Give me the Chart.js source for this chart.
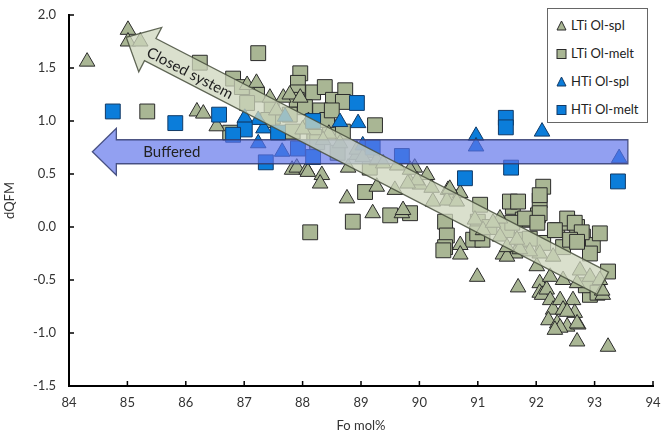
<!DOCTYPE html>
<html>
<head>
<meta charset="utf-8">
<script src="https://cdn.jsdelivr.net/npm/chart.js@4.4.0/dist/chart.umd.min.js"></script>
<style>
  html, body { margin: 0; padding: 0; background: #fff; }
  #wrap { position: relative; width: 671px; height: 437px; }
  #legend {
    position: absolute; left: 547px; top: 8px; width: 99px; height: 113px;
    border: 1.3px solid #666; background: #fff;
    font-family: Lato, "Open Sans", sans-serif; font-size: 13px; color: #222;
  }
  #legend .item { position: absolute; left: 8px; height: 16px; line-height: 16px; white-space: nowrap; }
  #legend svg { vertical-align: -1px; margin-right: 4px; }
</style>
</head>
<body>
<div id="wrap">
  <canvas id="chart" width="671" height="437"></canvas>
  <div id="legend"></div>
</div>
<script>
// ---- data (Fo mol%, dQFM) ----
const xTicks = [84, 85, 86, 87, 88, 89, 90, 91, 92, 93, 94];
const yTicks = [-1.5, -1.0, -0.5, 0.0, 0.5, 1.0, 1.5, 2.0];

const ltiSpl = [
  [84.31,1.56],[85.01,1.86],[85.01,1.75],[85.22,1.75],[86.19,1.09],[86.30,1.07],[86.53,0.95],
  [87.05,1.34],[87.21,1.36],[87.44,1.22],[87.67,1.22],[87.78,1.25],[87.96,1.22],[87.55,1.10],
  [88.10,1.00],[88.45,0.88],[87.82,0.54],[87.90,0.56],[88.07,0.54],[88.09,0.52],[88.33,0.49],
  [88.30,0.41],[88.76,0.27],[88.78,0.56],[89.20,0.13],[89.27,0.38],[89.58,0.35],[89.70,0.13],
  [89.92,0.56],[89.84,0.42],[90.01,0.40],[90.21,0.37],[90.23,0.24],[90.49,0.35],[90.70,0.32],
  [90.47,0.25],[89.72,0.16],[90.70,-0.17],[90.70,-0.26],[91.38,0.08],[91.43,-0.26],[91.64,-0.25],
  [90.99,-0.47],[91.50,-0.28],[91.69,-0.57],[92.01,-0.37],[92.06,-0.53],[92.06,-0.62],[92.10,-0.64],
  [92.18,-0.59],[92.24,-0.69],[92.29,-0.78],[92.21,-0.88],[92.41,-0.69],[92.36,-0.91],[92.46,-0.78],
  [92.53,-0.94],[92.41,-0.95],[92.32,-0.97],[92.63,-0.69],[92.72,-0.92],[92.70,-1.08],[93.23,-1.13],
  [92.66,-0.81],[92.53,-0.80],[92.70,-0.91],[93.14,-0.64],[93.13,-0.60],
  [92.24,-0.47],[92.46,-0.50],[92.70,-0.53],[92.75,-0.41],[92.92,-0.47],[93.09,-0.50],[92.29,-0.28],
  [92.06,-0.25],[91.89,-0.23],[91.72,-0.21],[90.13,0.49],[90.52,0.36],[90.64,0.24],[90.95,0.07],
  [91.09,-0.03],[91.26,0.04],[91.38,-0.09],[91.50,-0.19],[91.67,-0.12],[88.93,0.68],[89.10,0.70],
  [89.27,0.63],[89.62,0.58],[89.84,0.54],[89.96,0.44],[89.80,0.41],[88.64,0.79],[88.93,0.73],
  [89.03,0.66],[89.38,0.60],[88.35,0.82],[88.00,0.92]
];

const ltiMelt = [
  [85.34,1.09],[86.24,1.55],[86.81,1.40],[86.96,1.32],[86.76,0.89],[87.24,1.64],[87.22,1.25],
  [87.49,1.04],[87.47,1.13],[87.96,1.45],[87.92,1.36],[87.92,1.27],[87.90,1.20],[88.18,1.27],
  [88.38,1.32],[88.52,1.20],[88.30,1.10],[88.04,1.13],[87.78,1.06],[87.05,1.17],[87.41,1.01],
  [88.47,0.94],[88.73,1.29],[88.69,1.18],[89.24,0.96],[88.42,1.01],[88.50,1.10],[88.69,0.90],
  [88.20,0.85],[87.83,0.90],[88.25,0.80],[88.60,0.70],
  [89.07,0.33],[88.86,0.05],[88.13,-0.05],[89.50,0.11],[89.84,0.13],[89.15,0.56],[90.44,0.05],
  [91.04,0.21],[91.00,0.05],[90.47,-0.08],[90.44,-0.19],[90.92,-0.12],[91.08,-0.12],[90.41,-0.22],
  [91.50,-0.03],[91.60,0.19],[91.55,0.24],[91.77,0.07],[91.75,-0.12],[90.99,-0.06],[91.59,0.04],
  [91.89,0.07],[92.03,0.11],[92.06,0.25],[92.12,-0.15],[92.36,-0.03],[92.55,0.04],[92.70,0.00],
  [92.80,-0.09],[92.97,-0.17],[93.09,-0.06],[93.23,-0.42],[92.92,-0.64],[92.46,-0.19],[92.12,0.38],
  [92.06,0.30],[91.69,0.24],[91.81,0.08],[92.06,0.13],[92.02,0.04],[92.53,0.08],[92.66,0.04],
  [92.78,-0.05],[92.58,-0.12],[92.92,-0.25],[92.32,-0.03],[91.89,-0.11],[92.70,-0.14],[92.85,-0.55],
  [93.05,-0.62],[90.55,0.28],[91.20,0.00]
];

const htiSpl = [
  [87.01,1.03],[87.33,0.93],[87.24,1.01],[87.70,1.04],[88.64,0.99],[88.95,0.98],[87.24,0.79],
  [87.65,0.71],[89.03,0.77],[90.97,0.86],[90.97,0.76],[92.10,0.90],[93.42,0.65]
];

const htiMelt = [
  [84.75,1.09],[85.82,0.98],[86.57,1.06],[87.01,0.92],[87.58,0.89],[88.18,1.00],[88.93,1.17],
  [87.37,0.61],[87.92,0.74],[88.18,0.66],[86.81,0.87],[89.20,0.75],[89.70,0.67],[90.78,0.46],
  [91.48,1.03],[91.48,0.94],[91.57,0.56],[93.40,0.43]
];

// arrows: [tail, tip] in data units, label centre in data units
const closedArrow = { tail: [93.14, -0.53], tip: [84.98, 1.79], label: 'Closed system', at: [86.07, 1.45] };
const bufferArrow = { tail: [93.57, 0.71], tip: [84.40, 0.71], label: 'Buffered', at: [85.76, 0.71] };

const toPts = arr => arr.map(p => ({ x: p[0], y: p[1] }));

const GREY = '#a9b694';
const BLUE = '#0b7dda';
const FONT = 'Lato, "Open Sans", sans-serif';

function drawArrow(ctx, x0, y0, x1, y1, w, hw, hl, fill, stroke) {
  const len = Math.hypot(x1 - x0, y1 - y0);
  const ux = (x1 - x0) / len, uy = (y1 - y0) / len;
  const nx = -uy, ny = ux;
  const bx = x1 - ux * hl, by = y1 - uy * hl;
  ctx.beginPath();
  ctx.moveTo(x0 + nx * w, y0 + ny * w);
  ctx.lineTo(bx + nx * w, by + ny * w);
  ctx.lineTo(bx + nx * hw, by + ny * hw);
  ctx.lineTo(x1, y1);
  ctx.lineTo(bx - nx * hw, by - ny * hw);
  ctx.lineTo(bx - nx * w, by - ny * w);
  ctx.lineTo(x0 - nx * w, y0 - ny * w);
  ctx.closePath();
  ctx.fillStyle = fill;
  ctx.fill();
  ctx.strokeStyle = stroke;
  ctx.lineWidth = 1.3;
  ctx.stroke();
}

const arrowPlugin = {
  id: 'arrows',
  afterDatasetsDraw(chart) {
    const { ctx, scales: { x, y } } = chart;
    ctx.save();
    // buffered (horizontal) first, closed system on top
    const b = bufferArrow;
    drawArrow(ctx, x.getPixelForValue(b.tail[0]), y.getPixelForValue(b.tail[1]),
      x.getPixelForValue(b.tip[0]), y.getPixelForValue(b.tip[1]),
      12, 23.5, 24, 'rgba(95,115,235,0.68)', 'rgba(50,60,110,0.85)');
    const c = closedArrow;
    const cx0 = x.getPixelForValue(c.tail[0]), cy0 = y.getPixelForValue(c.tail[1]);
    const cx1 = x.getPixelForValue(c.tip[0]), cy1 = y.getPixelForValue(c.tip[1]);
    drawArrow(ctx, cx0, cy0, cx1, cy1, 12.5, 25, 27, 'rgba(205,214,188,0.75)', 'rgba(70,78,60,0.85)');

    ctx.fillStyle = '#222';
    ctx.font = '15px ' + FONT;
    ctx.textAlign = 'center';
    ctx.textBaseline = 'middle';
    ctx.fillText(b.label, x.getPixelForValue(b.at[0]), y.getPixelForValue(b.at[1]));
    ctx.translate(x.getPixelForValue(c.at[0]), y.getPixelForValue(c.at[1]));
    ctx.rotate(Math.atan2(cy0 - cy1, cx0 - cx1));
    ctx.fillText(c.label, 0, 0);
    ctx.restore();
  },
  afterDraw(chart) {
    // short inward tick marks
    const { ctx, scales: { x, y } } = chart;
    ctx.save();
    ctx.strokeStyle = '#000';
    ctx.lineWidth = 1.5;
    ctx.beginPath();
    xTicks.forEach(v => {
      const px = x.getPixelForValue(v);
      ctx.moveTo(px, y.bottom); ctx.lineTo(px, y.bottom - 5);
    });
    yTicks.forEach(v => {
      const py = y.getPixelForValue(v);
      ctx.moveTo(x.left, py); ctx.lineTo(x.left + 5, py);
    });
    ctx.stroke();
    ctx.restore();
  }
};

new Chart(document.getElementById('chart'), {
  type: 'scatter',
  data: {
    datasets: [
      { label: 'HTi Ol-melt', data: toPts(htiMelt), pointStyle: 'rect', pointRadius: 10.5,
        backgroundColor: BLUE, borderColor: '#123a66', borderWidth: 1, order: 0 },
      { label: 'HTi Ol-spl', data: toPts(htiSpl), pointStyle: 'triangle', pointRadius: 9,
        backgroundColor: BLUE, borderColor: '#123a66', borderWidth: 1, order: 1 },
      { label: 'LTi Ol-spl', data: toPts(ltiSpl), pointStyle: 'triangle', pointRadius: 9,
        backgroundColor: GREY, borderColor: '#2b2b2b', borderWidth: 1, order: 2 },
      { label: 'LTi Ol-melt', data: toPts(ltiMelt), pointStyle: 'rect', pointRadius: 10.5,
        backgroundColor: GREY, borderColor: '#2b2b2b', borderWidth: 1, order: 3 }
    ]
  },
  options: {
    responsive: false,
    animation: false,
    events: [],
    layout: { padding: { left: 0, right: 18, top: 15, bottom: 0 } },
    plugins: { legend: { display: false }, tooltip: { enabled: false } },
    scales: {
      x: {
        type: 'linear', min: 84, max: 94,
        afterFit: s => { s.height = 51; s.paddingLeft = 0; s.paddingRight = 0; },
        afterBuildTicks: s => { s.ticks = xTicks.map(v => ({ value: v })); },
        grid: { display: false, drawTicks: false },
        border: { display: true, color: '#000', width: 2 },
        ticks: { color: '#333', font: { family: FONT, size: 13 }, padding: 9 },
        title: { display: true, text: 'Fo mol%', color: '#333', font: { family: FONT, size: 13 }, padding: { top: 0, bottom: 3 } }
      },
      y: {
        type: 'linear', min: -1.5, max: 2.0,
        afterFit: s => { s.width = 69; s.paddingTop = 0; s.paddingBottom = 0; },
        afterBuildTicks: s => { s.ticks = yTicks.map(v => ({ value: v })); },
        grid: { display: false, drawTicks: false },
        border: { display: true, color: '#000', width: 2 },
        ticks: { color: '#333', font: { family: FONT, size: 13 }, padding: 13,
          callback: v => v.toFixed(1) },
        title: { display: true, text: 'dQFM', color: '#333', font: { family: FONT, size: 13 }, padding: { top: 2, bottom: 0 } }
      }
    }
  },
  plugins: [arrowPlugin]
});

// legend
const legendItems = [
  { label: 'LTi Ol-spl', shape: 'tri', color: GREY, edge: '#2b2b2b' },
  { label: 'LTi Ol-melt', shape: 'sq', color: GREY, edge: '#2b2b2b' },
  { label: 'HTi Ol-spl', shape: 'tri', color: BLUE, edge: '#123a66' },
  { label: 'HTi Ol-melt', shape: 'sq', color: BLUE, edge: '#123a66' }
];
const legendEl = document.getElementById('legend');
legendItems.forEach((it, i) => {
  const d = document.createElement('div');
  d.className = 'item';
  d.style.top = (8 + i * 28) + 'px';
  const mark = it.shape === 'tri'
    ? '<polygon points="5.5,1 10,10 1,10" fill="' + it.color + '" stroke="' + it.edge + '" stroke-width="1"/>'
    : '<rect x="1" y="1.5" width="9" height="9" fill="' + it.color + '" stroke="' + it.edge + '" stroke-width="1"/>';
  d.innerHTML = '<svg width="11" height="11">' + mark + '</svg>' + it.label;
  legendEl.appendChild(d);
});
</script>
</body>
</html>
